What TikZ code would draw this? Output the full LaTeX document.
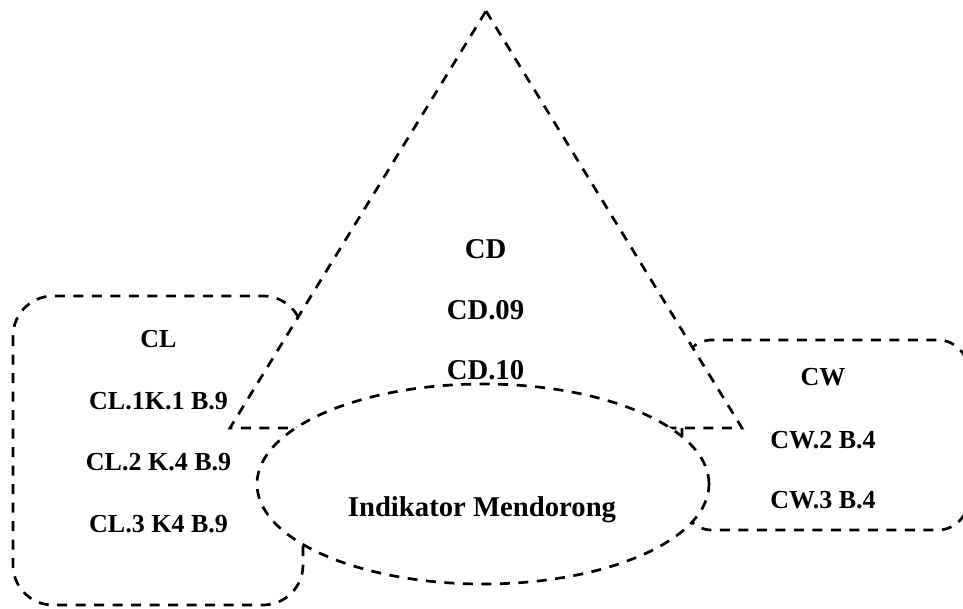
\documentclass[tikz,border=0pt]{standalone}
\usepackage{fontspec}
\setmainfont{Liberation Serif}
\begin{document}
\begin{tikzpicture}[x=1pt,y=-1pt,
  outline/.style={draw=black, line width=2.7pt, dash pattern=on 10pt off 8.5pt, fill=white},
  lbl/.style={font=\bfseries\fontsize{26}{30}\selectfont, anchor=base, inner sep=0pt},
  biglbl/.style={font=\bfseries\fontsize{28.7}{32}\selectfont, anchor=base, inner sep=0pt}]
\useasboundingbox (0,0) rectangle (963,608);
\clip (0,0) rectangle (963,608);
% left box CL
\draw[outline, rounded corners=40pt] (13,296) rectangle (303,605);
% right box CW
\draw[outline, rounded corners=30pt] (682,340) rectangle (968,530);
% triangle CD
\coordinate (apex) at (486,11);
\coordinate (bl) at (230,428);
\coordinate (br) at (742,428);
\draw[outline] (apex) -- (br) -- (bl) -- cycle;
% ellipse
\draw[outline] (483,484) ellipse [x radius=226pt, y radius=100pt];
% texts
\node[lbl] (cl) at (158.5,347) {CL};
\node[lbl] (cl1) at (158.5,409) {CL.1K.1 B.9};
\node[lbl] (cl2) at (158.5,470) {CL.2 K.4 B.9};
\node[lbl] (cl3) at (158.5,532) {CL.3 K4 B.9};
\node[lbl] (cw) at (823,385) {CW};
\node[lbl] (cw2) at (823,448) {CW.2 B.4};
\node[lbl] (cw3) at (823,508) {CW.3 B.4};
\node[biglbl] (cd) at (485.5,258) {CD};
\node[biglbl] (cd9) at (485.5,319) {CD.09};
\node[biglbl] (cd10) at (485.5,379) {CD.10};
\node[biglbl] (ind) at (482,516) {Indikator Mendorong};
\end{tikzpicture}
\end{document}
